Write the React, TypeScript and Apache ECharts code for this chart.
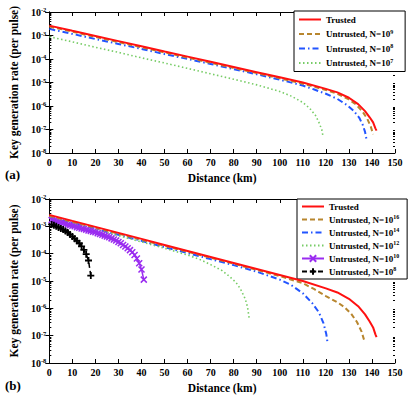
import React, { useEffect, useRef } from "react";
import * as echarts from "echarts";

const FONT = '"Liberation Serif", "Times New Roman", serif';

// ---- Panel (a) & shared trusted curve ----
const trustedD = [0, 10, 20, 30, 40, 50, 60, 70, 80, 90, 100, 110, 120, 125, 130, 134, 137, 139, 140.5, 141.5, 142];
const trustedV = [2.63e-3, 1.58e-3, 9.55e-4, 5.75e-4, 3.47e-4, 2.09e-4, 1.26e-4, 7.59e-5, 4.57e-5, 2.75e-5, 1.66e-5, 1.0e-5, 5.37e-6, 3.8e-6, 2.24e-6, 1.2e-6, 6.03e-7, 3.31e-7, 2.0e-7, 1.12e-7, 8.91e-8];

const aN9D = [0, 10, 20, 30, 40, 50, 60, 70, 80, 90, 100, 110, 120, 125, 130, 133, 136, 138, 139.5, 140.5];
const aN9V = [2.4e-3, 1.45e-3, 8.71e-4, 5.25e-4, 3.16e-4, 1.91e-4, 1.15e-4, 6.92e-5, 4.17e-5, 2.51e-5, 1.51e-5, 8.91e-6, 4.79e-6, 3.31e-6, 1.91e-6, 1.17e-6, 5.62e-7, 2.82e-7, 1.32e-7, 6.31e-8];

const aN8D = [0, 10, 20, 30, 40, 50, 60, 70, 80, 90, 100, 110, 115, 120, 125, 129, 132, 134.5, 136, 137, 137.7];
const aN8V = [1.91e-3, 1.17e-3, 7.08e-4, 4.37e-4, 2.69e-4, 1.62e-4, 1.0e-4, 6.17e-5, 3.72e-5, 2.24e-5, 1.32e-5, 7.41e-6, 5.01e-6, 3.31e-6, 2.0e-6, 1.12e-6, 6.31e-7, 3.16e-7, 1.58e-7, 7.94e-8, 3.55e-8];

const aN7D = [0, 10, 20, 30, 40, 50, 60, 70, 80, 90, 100, 105, 110, 113, 115.5, 117, 118.2, 118.8];
const aN7V = [8.91e-4, 5.37e-4, 3.16e-4, 1.91e-4, 1.12e-4, 6.76e-5, 3.98e-5, 2.34e-5, 1.38e-5, 7.94e-6, 4.17e-6, 2.63e-6, 1.41e-6, 7.94e-7, 3.98e-7, 2.0e-7, 1.0e-7, 5.01e-8];

// ---- Panel (b) ----
const bN16D = [0, 10, 20, 30, 40, 50, 60, 70, 80, 90, 100, 110, 115, 120, 125, 128, 131, 133.5, 135.5, 136.8];
const bN16V = [2.45e-3, 1.48e-3, 8.91e-4, 5.37e-4, 3.24e-4, 1.95e-4, 1.17e-4, 7.08e-5, 4.27e-5, 2.57e-5, 1.51e-5, 8.32e-6, 5.01e-6, 2.82e-6, 1.66e-6, 1.12e-6, 6.31e-7, 3.16e-7, 1.41e-7, 6.03e-8];

const bN14D = [0, 10, 20, 30, 40, 50, 60, 70, 80, 90, 100, 105, 110, 114, 117, 119, 120.2, 120.8];
const bN14V = [2.24e-3, 1.35e-3, 8.13e-4, 4.9e-4, 2.95e-4, 1.74e-4, 1.05e-4, 6.31e-5, 3.8e-5, 2.19e-5, 1.12e-5, 7.08e-6, 3.55e-6, 1.58e-6, 7.08e-7, 2.82e-7, 1.12e-7, 5.01e-8];

const bN12D = [0, 10, 20, 30, 40, 50, 60, 65, 70, 75, 78, 81, 83, 85, 86, 86.7];
const bN12V = [2.09e-3, 1.26e-3, 7.59e-4, 4.57e-4, 2.69e-4, 1.58e-4, 8.91e-5, 6.31e-5, 3.98e-5, 2.4e-5, 1.51e-5, 8.91e-6, 5.01e-6, 2.24e-6, 1.12e-6, 4.47e-7];

const bN10D = [1, 2, 3, 4, 5, 6, 7, 8, 9, 10, 11, 12, 13, 14, 15, 16, 17, 18, 19, 20, 21, 22, 23, 24, 25, 26, 27, 28, 29, 30, 31, 32, 33, 34, 35, 36, 37, 38, 39, 40, 41];
const bN10V = [1.7e-3, 1.62e-3, 1.51e-3, 1.45e-3, 1.38e-3, 1.32e-3, 1.23e-3, 1.17e-3, 1.1e-3, 1.05e-3, 1.0e-3, 9.33e-4, 8.91e-4, 8.32e-4, 7.94e-4, 7.59e-4, 7.08e-4, 6.76e-4, 6.31e-4, 6.03e-4, 5.62e-4, 5.25e-4, 4.9e-4, 4.57e-4, 4.27e-4, 3.98e-4, 3.63e-4, 3.31e-4, 3.02e-4, 2.69e-4, 2.4e-4, 2.09e-4, 1.82e-4, 1.58e-4, 1.35e-4, 1.12e-4, 8.91e-5, 6.61e-5, 4.47e-5, 2.63e-5, 1.12e-5];

const bN8D = [1, 2, 3, 4, 5, 6, 7, 8, 9, 10, 11, 12, 13, 14, 15, 16, 17, 18];
const bN8V = [1.17e-3, 1.1e-3, 1.0e-3, 9.12e-4, 8.32e-4, 7.59e-4, 6.76e-4, 5.89e-4, 5.01e-4, 4.27e-4, 3.55e-4, 2.95e-4, 2.4e-4, 1.86e-4, 1.38e-4, 9.55e-5, 5.62e-5, 1.58e-5];

const xTicks = [0, 150, 10]; // min, max, interval
const yExtent = [1e-8, 1e-2];

const pairs = (d: number[], v: number[]) => d.map((x, i) => [x, v[i]]);

const minorVals: number[] = [];
for (let e = -8; e < -2; e++) for (let k = 2; k <= 9; k++) minorVals.push(k * Math.pow(10, e));

const C = {
  red: "#ff1010",
  brown: "#b8862e",
  blue: "#2255ff",
  green: "#77cc66",
  purple: "#9a2cf0",
  black: "#000000",
};

export default function App() {
  const ref = useRef<HTMLDivElement>(null);
  useEffect(() => {
    if (!ref.current) return;
    const chart = echarts.init(ref.current, null, { renderer: "svg" });
    const grids = [
      { left: 43, top: 12, width: 352, height: 141 },
      { left: 43, top: 199, width: 352, height: 169 },
    ];
    const labelStyle = { fontFamily: FONT, fontWeight: "bold" as const, fontSize: 10, color: "#000" };
    const axisLine = { show: true, lineStyle: { color: "#000", width: 1 } };
    const xAxis: any[] = [];
    const yAxis: any[] = [];
    grids.forEach((_, g) => {
      xAxis.push({
        type: "value", gridIndex: g, min: xTicks[0], max: xTicks[1], interval: xTicks[2],
        axisLine, axisTick: { inside: true, length: 4, lineStyle: { color: "#000" } },
        axisLabel: { ...labelStyle, margin: 4 }, splitLine: { show: false },
        name: "Distance (km)", nameLocation: "middle", nameGap: 19,
        nameTextStyle: { fontFamily: FONT, fontWeight: "bold", fontSize: 11.5, color: "#000" },
      });
      xAxis.push({
        type: "value", gridIndex: g, position: "top", min: xTicks[0], max: xTicks[1], interval: xTicks[2],
        axisLine, axisTick: { inside: true, length: 4, lineStyle: { color: "#000" } },
        axisLabel: { show: false }, splitLine: { show: false },
      });
      const base = {
        type: "log", gridIndex: g, logBase: 10, min: yExtent[0], max: yExtent[1], splitLine: { show: false },
      };
      yAxis.push({
        ...base, position: "left", axisLine,
        axisTick: { inside: true, length: 4, lineStyle: { color: "#000" } },
        axisLabel: {
          margin: 3,
          formatter: (v: number) => `{b|10}{s|${Math.round(Math.log10(v))}}`,
          rich: {
            b: { fontFamily: FONT, fontWeight: "bold", fontSize: 10, color: "#000", lineHeight: 12 },
            s: { fontFamily: FONT, fontWeight: "bold", fontSize: 6.5, color: "#000", verticalAlign: "top", lineHeight: 7 },
          },
        },
        name: "Key generation rate (per pulse)", nameLocation: "middle", nameGap: 17, nameRotate: 90,
        nameTextStyle: { fontFamily: FONT, fontWeight: "bold", fontSize: 11.5, color: "#000" },
      });
      yAxis.push({
        ...base, position: "right", axisLine,
        axisTick: { inside: true, length: 4, lineStyle: { color: "#000" } },
        axisLabel: { show: false },
      });
      yAxis.push({
        ...base, position: "left", axisLine: { show: false },
        axisTick: { inside: true, length: 2, customValues: minorVals, lineStyle: { color: "#000" } },
        axisLabel: { show: false },
      });
      yAxis.push({
        ...base, position: "right", axisLine: { show: false },
        axisTick: { inside: true, length: 2, customValues: minorVals, lineStyle: { color: "#000" } },
        axisLabel: { show: false },
      });
    });

    const line = (name: string, g: number, d: number[], v: number[], color: string, type: any, width: number, extra: any = {}) => ({
      name, type: "line", xAxisIndex: g * 2, yAxisIndex: g * 4, data: pairs(d, v),
      symbol: "none", lineStyle: { color, type, width }, itemStyle: { color }, z: 3, ...extra,
    });

    const dash = [5, 3];
    const dashDot = [6, 3, 1.5, 3];
    const dot = [1.5, 2.5];

    const series: any[] = [
      line("a:Trusted", 0, trustedD, trustedV, C.red, "solid", 2, { z: 5 }),
      line("a:Untrusted, N=10^9", 0, aN9D, aN9V, C.brown, dash, 2, { z: 4 }),
      line("a:Untrusted, N=10^8", 0, aN8D, aN8V, C.blue, dashDot, 2),
      line("a:Untrusted, N=10^7", 0, aN7D, aN7V, C.green, dot, 1.6),
      line("b:Trusted", 1, trustedD, trustedV, C.red, "solid", 2, { z: 5 }),
      line("b:Untrusted, N=10^16", 1, bN16D, bN16V, C.brown, dash, 2, { z: 4 }),
      line("b:Untrusted, N=10^14", 1, bN14D, bN14V, C.blue, dashDot, 2),
      line("b:Untrusted, N=10^12", 1, bN12D, bN12V, C.green, dot, 1.6),
      line("b:Untrusted, N=10^10", 1, bN10D, bN10V, C.purple, "solid", 1.5, {
        symbol: "path://M0,0L10,10M10,0L0,10", symbolSize: 6, showSymbol: true,
        itemStyle: { color: C.purple, borderColor: C.purple, borderWidth: 1.5 },
      }),
      line("b:Untrusted, N=10^8", 1, bN8D, bN8V, C.black, dash, 1.5, {
        symbol: "path://M5,0L5,10M0,5L10,5", symbolSize: 7, showSymbol: true,
        itemStyle: { color: C.black, borderColor: C.black, borderWidth: 1.8 },
      }),
    ];

    const legendFmt = (name: string) => {
      const s = name.slice(2);
      const m = s.match(/^(.*10)\^(\d+)$/);
      return m ? `{n|${m[1]}}{s|${m[2]}}` : `{n|${s}}`;
    };
    const legendText = {
      rich: {
        n: { fontFamily: FONT, fontWeight: "bold", fontSize: 9, color: "#000", lineHeight: 11 },
        s: { fontFamily: FONT, fontWeight: "bold", fontSize: 6, color: "#000", verticalAlign: "top", lineHeight: 6 },
      },
    };
    const legendBase = {
      orient: "vertical", backgroundColor: "#fff", borderColor: "#000", borderWidth: 1,
      itemWidth: 22, itemHeight: 8, formatter: legendFmt, textStyle: legendText,
      selectedMode: false, itemGap: 4, width: 92,
    };
    const legendItem = (s: any) =>
      s.symbol === "none" ? { name: s.name, itemStyle: { opacity: 0 } } : { name: s.name };

    chart.setOption({
      animation: false,
      backgroundColor: "#fff",
      grid: grids.map((g) => ({ ...g, containLabel: false })),
      xAxis, yAxis,
      legend: [
        { ...legendBase, left: 294, top: 11, padding: [4, 12, 4, 4], itemGap: 4.5, data: series.slice(0, 4).map(legendItem) },
        { ...legendBase, left: 297, top: 199, padding: [3, 8, 3, 4], itemGap: 3, data: series.slice(4).map(legendItem) },
      ],
      series,
      graphic: [
        { type: "text", left: 5, top: 168, style: { text: "(a)", font: `bold 13px ${FONT}`, fill: "#000" } },
        { type: "text", left: 5, top: 379, style: { text: "(b)", font: `bold 13px ${FONT}`, fill: "#000" } },
      ],
    });
    return () => chart.dispose();
  }, []);
  return <div ref={ref} style={{ position: "fixed", left: 0, top: 0, width: 415, height: 395 }} />;
}
